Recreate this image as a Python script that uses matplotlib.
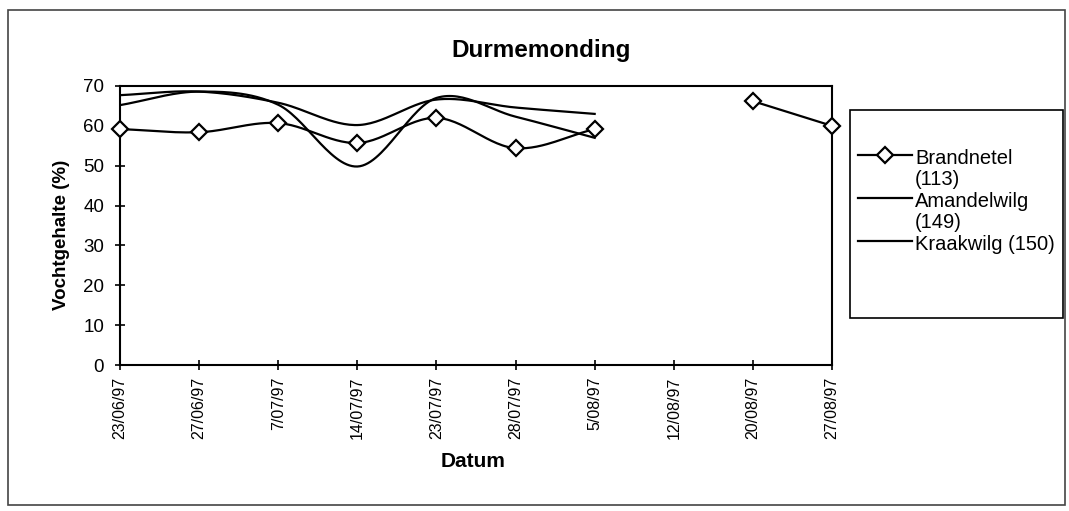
import numpy as np
import matplotlib
matplotlib.use("Agg")
import matplotlib.pyplot as plt
from matplotlib.lines import Line2D
from matplotlib.patches import Rectangle

plt.rcParams['font.family'] = ['Liberation Sans', 'DejaVu Sans']

# Sampling dates (categorical axis)
dates = ["23/06/97", "27/06/97", "7/07/97", "14/07/97", "23/07/97",
         "28/07/97", "5/08/97", "12/08/97", "20/08/97", "27/08/97"]

# Moisture content (%) per species; None = not measured
brandnetel = [59.2, 58.4, 60.7, 55.7, 62.0, 54.4, 59.2, None, 66.2, 60.0]
amandelwilg = [65.2, 68.6, 65.3, 49.8, 67.0, 62.3, 57.0, None, None, None]
kraakwilg = [67.7, 68.6, 65.8, 60.2, 66.6, 64.6, 63.0, None, None, None]

series = [
    ("Brandnetel\n(113)", brandnetel, True),
    ("Amandelwilg\n(149)", amandelwilg, False),
    ("Kraakwilg (150)", kraakwilg, False),
]

W, H = 1069, 511


def fx(px):
    return px / W


def fy(py):
    return 1 - py / H


def smooth(xs, ys, n=30):
    """Bezier smoothing through the given points (Catmull-Rom tangents)."""
    xs = np.asarray(xs, float)
    ys = np.asarray(ys, float)
    if len(xs) < 3:
        return xs, ys
    px = np.concatenate([[2 * xs[0] - xs[1]], xs, [2 * xs[-1] - xs[-2]]])
    py = np.concatenate([[2 * ys[0] - ys[1]], ys, [2 * ys[-1] - ys[-2]]])
    ox, oy = [], []
    t = np.linspace(0, 1, n, endpoint=False)
    for i in range(1, len(px) - 2):
        p0, p1, p2, p3 = [np.array([px[j], py[j]]) for j in range(i - 1, i + 3)]
        c1 = p1 + (p2 - p0) / 6.0
        c2 = p2 - (p3 - p1) / 6.0
        b = ((1 - t) ** 3)[:, None] * p1 + (3 * (1 - t) ** 2 * t)[:, None] * c1 \
            + (3 * (1 - t) * t ** 2)[:, None] * c2 + (t ** 3)[:, None] * p2
        ox.extend(b[:, 0]); oy.extend(b[:, 1])
    ox.append(xs[-1]); oy.append(ys[-1])
    return np.array(ox), np.array(oy)


def segments(values):
    segs, cur = [], []
    for i, v in enumerate(values):
        if v is None:
            if cur:
                segs.append(cur); cur = []
        else:
            cur.append((i, v))
    if cur:
        segs.append(cur)
    return segs


fig = plt.figure(figsize=(W / 100, H / 100), dpi=100)

# outer chart border
fig.patches.append(Rectangle((fx(8), fy(505)), fx(1057), 495 / H,
                             transform=fig.transFigure, fill=False,
                             edgecolor="#444444", linewidth=1.2))

ax = fig.add_axes([fx(120), fy(365), fx(712), 279 / H])
lw = 1.6
mk = dict(marker="D", markersize=8, markerfacecolor="white",
          markeredgecolor="black", markeredgewidth=1.6)
for label, vals, marked in series:
    for seg in segments(vals):
        xs = [p[0] for p in seg]
        ys = [p[1] for p in seg]
        sx, sy = smooth(xs, ys)
        ax.plot(sx, sy, color="black", linewidth=lw, zorder=2)
        if marked:
            ax.plot(xs, ys, linestyle="none", zorder=3, clip_on=False, **mk)

ax.set_xlim(0, len(dates) - 1)
ax.set_ylim(0, 70)
ax.set_xticks(range(len(dates)))
ax.set_xticklabels(dates, rotation=90, fontsize=11.5)
ax.set_yticks(range(0, 71, 10))
ax.tick_params(axis="y", labelsize=13.5, direction="inout", length=7, width=1.2, pad=8)
ax.tick_params(axis="x", direction="inout", length=7, width=1.2, pad=5)
for s in ax.spines.values():
    s.set_linewidth(1.5)

fig.text(fx(541), fy(50), "Durmemonding", fontsize=17.5, fontweight="bold",
         ha="center", va="center")
fig.text(fx(473), fy(461), "Datum", fontsize=15, fontweight="bold",
         ha="center", va="center")
fig.text(fx(62), fy(235), "Vochtgehalte (%)", fontsize=13.5, fontweight="bold",
         ha="center", va="center", rotation=90)

# legend box
fig.patches.append(Rectangle((fx(850), fy(318)), fx(213), 208 / H,
                             transform=fig.transFigure, fill=False,
                             edgecolor="black", linewidth=1.2))
entry_y = [155, 198, 241]
line_step = 21.5
for (label, vals, marked), ey in zip(series, entry_y):
    line = Line2D([fx(858), fx(912)], [fy(ey), fy(ey)], transform=fig.transFigure,
                  color="black", linewidth=lw)
    fig.lines.append(line)
    if marked:
        fig.lines.append(Line2D([fx(885)], [fy(ey)], transform=fig.transFigure,
                                linestyle="none", **mk))
    for k, part in enumerate(label.split("\n")):
        fig.text(fx(915), fy(ey + 1 + k * line_step), part, fontsize=14.5,
                 ha="left", va="center_baseline")

fig.savefig("out.png", dpi=100, facecolor="white")
